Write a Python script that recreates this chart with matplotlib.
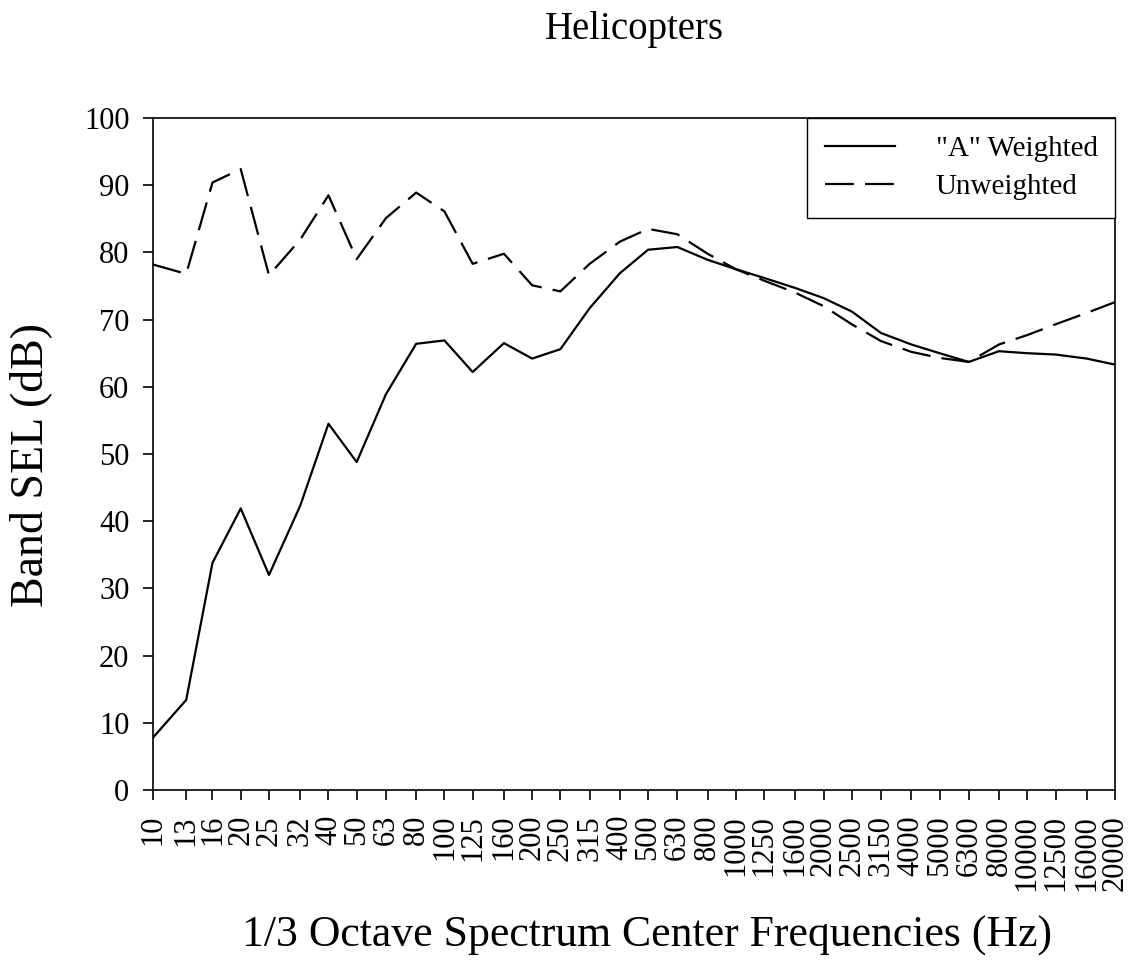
import matplotlib
matplotlib.use("Agg")
import matplotlib.pyplot as plt
import matplotlib.ticker as mticker

# ── STYLE ─────────────────────────────────────────────────────────────────────
plt.rcParams.update({
    "font.family": ["Liberation Serif", "DejaVu Serif"],
    "axes.linewidth": 1.2,
})

# ── DATA ──────────────────────────────────────────────────────────────────────
freqs = [10, 13, 16, 20, 25, 32, 40, 50, 63, 80, 100, 125, 160, 200, 250, 315,
         400, 500, 630, 800, 1000, 1250, 1600, 2000, 2500, 3150, 4000, 5000,
         6300, 8000, 10000, 12500, 16000, 20000]
freq_labels = [str(f) for f in freqs]

a_weighted = [7.8, 13.4, 33.8, 41.9, 32.0, 42.3, 54.5, 48.8, 58.9, 66.4,
              66.9, 62.2, 66.5, 64.2, 65.6, 71.7, 76.9, 80.4, 80.8, 78.9,
              77.5, 76.2, 74.7, 73.2, 71.2, 68.0, 66.3, 65.0, 63.7, 65.3,
              65.0, 64.8, 64.2, 63.3]
unweighted = [78.2, 76.8, 90.4, 92.4, 76.6, 81.9, 88.5, 79.0, 85.1, 88.9,
              86.1, 78.3, 79.8, 75.1, 74.2, 78.3, 81.6, 83.5, 82.7, 79.8,
              77.5, 75.8, 74.0, 72.0, 69.3, 66.8, 65.2, 64.3, 63.7, 66.3,
              67.7, 69.3, 71.0, 72.6]

# ── PLOT ──────────────────────────────────────────────────────────────────────
fig = plt.figure(figsize=(11.32, 9.6), dpi=100)
ax = fig.add_axes([153 / 1132, 1 - 790 / 960, 962 / 1132, 672 / 960])

ax.plot(freqs, a_weighted, color="black", linewidth=1.6, label='"A" Weighted')
ax.plot(freqs, unweighted, color="black", linewidth=1.6, dashes=(13, 5),
        label="Unweighted")

ax.set_xscale("log")
ax.set_xlim(10, 20000)
ax.set_ylim(0, 100)
ax.xaxis.set_minor_locator(mticker.NullLocator())
ax.set_xticks(freqs)
ax.set_xticklabels(freq_labels, rotation=90, fontsize=22)
ax.set_yticks(range(0, 101, 10))
ax.tick_params(axis="y", direction="out", length=7, width=1.2, pad=10, labelsize=22)
ax.tick_params(axis="x", direction="out", length=7, width=1.2, pad=11)

leg = ax.legend(loc="upper right", fontsize=21, frameon=True, fancybox=False,
                borderaxespad=0, handlelength=2.4, handletextpad=1.4,
                edgecolor="black", framealpha=1, borderpad=0.6,
                labelspacing=0.4)
leg.get_frame().set_linewidth(1.0)

fig.text(634 / 1132, 1 - 39 / 960, "Helicopters", ha="center", va="baseline",
         fontsize=28)
fig.text(647 / 1132, 1 - 947 / 960, "1/3 Octave Spectrum Center Frequencies (Hz)",
         ha="center", va="baseline", fontsize=31.5)
fig.text(31 / 1132, 1 - 465 / 960, "Band SEL (dB)", ha="center", va="center",
         rotation=90, fontsize=33)

fig.savefig("out.png", dpi=100)
